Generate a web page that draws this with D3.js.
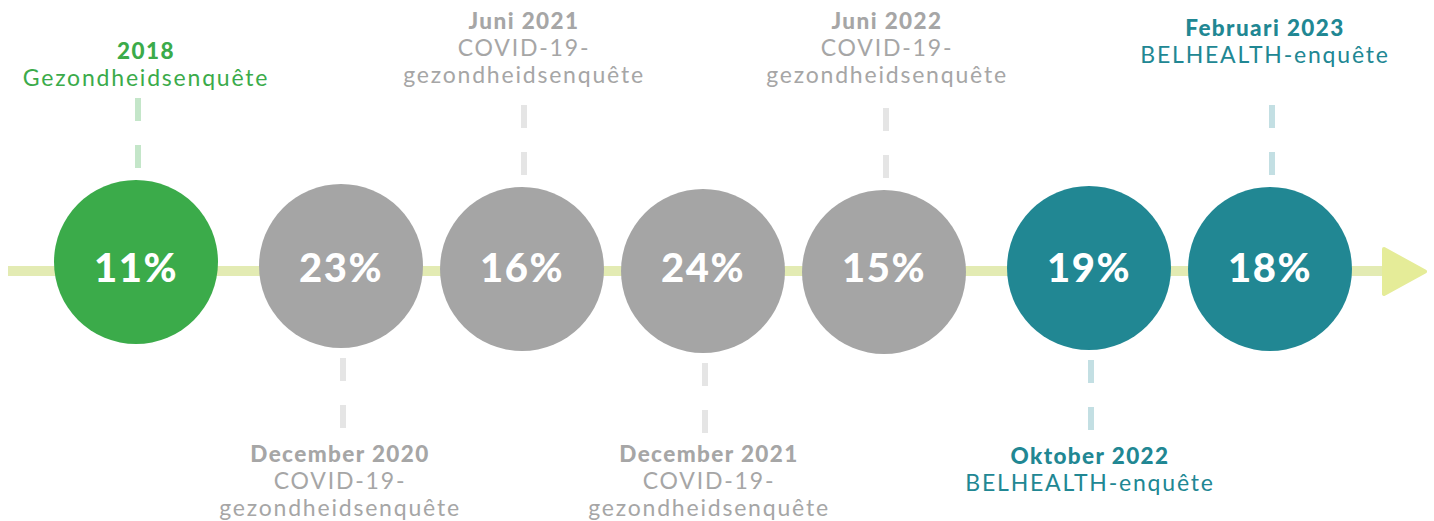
<!DOCTYPE html>
<html>
<head>
<meta charset="utf-8">
<script src="https://cdn.jsdelivr.net/npm/d3@7"></script>
<style>
  html, body { margin: 0; padding: 0; background: #ffffff; }
  svg { display: block; }
</style>
</head>
<body>
<div id="chart"></div>
<script>
// ---- data ----
const periods = ["2018", "December 2020", "Juni 2021", "December 2021", "Juni 2022", "Oktober 2022", "Februari 2023"];
const surveys = [
  ["Gezondheidsenquête"],
  ["COVID-19-", "gezondheidsenquête"],
  ["COVID-19-", "gezondheidsenquête"],
  ["COVID-19-", "gezondheidsenquête"],
  ["COVID-19-", "gezondheidsenquête"],
  ["BELHEALTH-enquête"],
  ["BELHEALTH-enquête"]
];
const values = [11, 23, 16, 24, 15, 19, 18];
const surveyType = ["HIS", "COVID", "COVID", "COVID", "COVID", "BELHEALTH", "BELHEALTH"];

// ---- layout / style (not data) ----
const W = 1434, H = 521;
const typeOrder = ["HIS", "COVID", "BELHEALTH"];
const fill = { HIS: "#3bab4a", COVID: "#a5a5a5", BELHEALTH: "#218793" };
const dashColor = { HIS: "#c4e6c9", COVID: "#e5e5e5", BELHEALTH: "#c3dfe3" };
const textColor = { HIS: "#3bab4a", COVID: "#a6a6a6", BELHEALTH: "#218793" };
const circleCy = [262, 266, 269, 271, 272, 268, 269];
const labelDx = [10, -1, 2, 6, 3, 1, -5];
const labelFirstY = [50, 453, 20, 453, 20, 455, 27];
const lineStep = 27;
const R = 82;
const axisY = 271;

const svg = d3.select("#chart").append("svg")
  .attr("width", W).attr("height", H);

const idx = d3.range(values.length);
const x = d3.scaleLinear().domain([0, values.length - 1]).range([136, 136 + 6 * 181]);
const gap = 24;
const cx = i => x(i) + typeOrder.indexOf(surveyType[i]) * gap;

// axis line + arrow
svg.append("line")
  .attr("x1", 8).attr("x2", 1386)
  .attr("y1", axisY).attr("y2", axisY)
  .attr("stroke", "#e3ebb3").attr("stroke-width", 10);
svg.append("path")
  .attr("d", d3.line()([[1384, 249], [1425, 271.5], [1384, 294]]) + "Z")
  .attr("fill", "#e5ec98").attr("stroke", "#e5ec98")
  .attr("stroke-width", 4).attr("stroke-linejoin", "round");

const g = svg.selectAll("g.item").data(idx).join("g").attr("class", "item");

// dashed connectors
g.append("line")
  .attr("x1", i => cx(i) + 2).attr("x2", i => cx(i) + 2)
  .attr("y1", i => i % 2 === 0 ? circleCy[i] - R - 12 : circleCy[i] + R + 10)
  .attr("y2", i => i % 2 === 0 ? circleCy[i] - R - 12 - 70 : circleCy[i] + R + 10 + 70)
  .attr("stroke", i => dashColor[surveyType[i]])
  .attr("stroke-width", 6)
  .attr("stroke-dasharray", "23,24");

// circles
g.append("circle")
  .attr("cx", cx).attr("cy", i => circleCy[i]).attr("r", R)
  .attr("fill", i => fill[surveyType[i]]);

// values
g.append("text")
  .attr("x", i => cx(i))
  .attr("y", 267)
  .attr("text-anchor", "middle")
  .attr("dominant-baseline", "central")
  .attr("font-family", "Lato, sans-serif")
  .attr("font-weight", 900)
  .attr("font-size", 40)
  .attr("letter-spacing", 1.5)
  .attr("fill", "#ffffff")
  .text(i => values[i] + "%");

// labels
const lab = g.append("text")
  .attr("text-anchor", "middle")
  .attr("font-family", "Lato, sans-serif")
  .attr("fill", i => textColor[surveyType[i]]);

lab.append("tspan")
  .attr("x", i => cx(i) + labelDx[i])
  .attr("y", i => labelFirstY[i])
  .attr("dominant-baseline", "central")
  .attr("font-weight", 900)
  .attr("font-size", 22.5)
  .attr("letter-spacing", 1.4)
  .text(i => periods[i]);

lab.each(function(i) {
  const t = d3.select(this);
  surveys[i].forEach((s, k) => {
    t.append("tspan")
      .attr("x", cx(i) + labelDx[i])
      .attr("y", labelFirstY[i] + lineStep * (k + 1))
      .attr("dominant-baseline", "central")
      .attr("font-weight", 400)
      .attr("font-size", 23)
      .attr("letter-spacing", 1.8)
      .text(s);
  });
});
</script>
</body>
</html>
